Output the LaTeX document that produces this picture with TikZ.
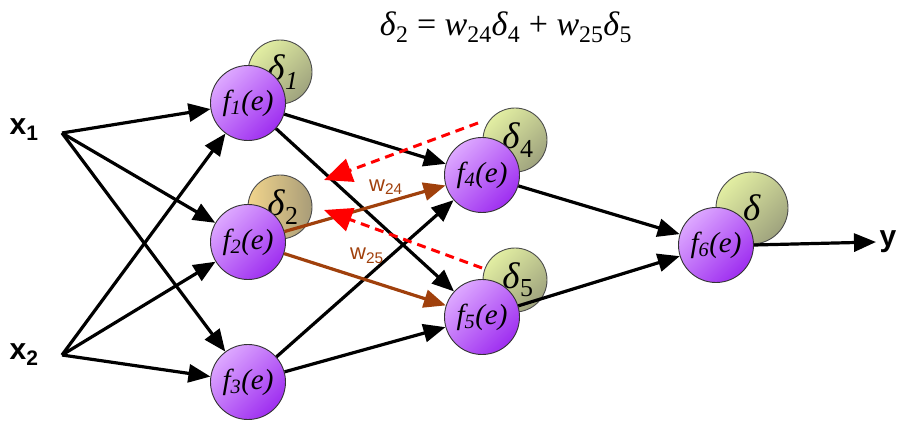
\documentclass[tikz,border=0pt]{standalone}
\usepackage{fontspec}
\setmainfont{Liberation Serif}
\setsansfont{Liberation Sans}
\usetikzlibrary{arrows.meta}
\definecolor{brownarrow}{HTML}{A0400C}
\definecolor{fpurpleA}{HTML}{DDA8FF}
\definecolor{fpurpleB}{HTML}{9E2EF0}
\definecolor{dgreenA}{HTML}{E2EEA2}
\definecolor{dgreenB}{HTML}{9FA37E}
\definecolor{dorangeA}{HTML}{F2D58C}
\definecolor{dorangeB}{HTML}{A89C78}
\newcommand{\dlt}{\textit{δ}}
\tikzset{
  fnode/.style={circle, draw=black!80, line width=0.9pt, minimum size=75pt, inner sep=0pt,
    left color=fpurpleA, right color=fpurpleB, shading angle=45, font=\fontsize{29}{30}\selectfont\itshape},
  dnode/.style={circle, draw=black!70, line width=0.9pt, minimum size=64pt, inner sep=0pt,
    left color=dgreenA, right color=dgreenB, shading angle=45, font=\fontsize{37}{38}\selectfont},
  dnodeo/.style={dnode, left color=dorangeA, right color=dorangeB},
  conn/.style={line width=3.2pt, -{Triangle[length=22pt,width=18pt]}},
  bconn/.style={conn, color=brownarrow},
  rconn/.style={line width=3pt, red, dash pattern=on 9pt off 6pt, -{Triangle[length=28pt,width=24pt]}},
  inlabel/.style={font=\sffamily\bfseries\fontsize{30}{32}\selectfont},
  wlabel/.style={font=\sffamily\fontsize{22}{24}\selectfont, text=brownarrow}
}
\begin{document}
\begin{tikzpicture}[x=1pt,y=-1pt]
\useasboundingbox (0,0) rectangle (910,438);
% delta circles
\node[dnode] (d1) at (280,72) {\kern6pt\dlt\textsubscript{\textit{1}}};
\node[dnodeo] (d2) at (280,207) {\kern6pt\dlt\textsubscript{2}};
\node[dnode] (d4) at (515,140) {\kern6pt\dlt\textsubscript{4}};
\node[dnode] (d5) at (515,280) {\kern6pt\dlt\textsubscript{5}};
\node[dnode, minimum size=72pt] (d6) at (752,208) {\dlt};
% inputs
\node[inlabel] (x1) at (24,130) {x\textsubscript{1}};
\node[inlabel] (x2) at (24,355) {x\textsubscript{2}};
\coordinate (x1c) at (62,133);
\coordinate (x2c) at (62,355);
\node[inlabel, anchor=west] (y) at (876,242) {y};
% f nodes
\node[fnode] (f1) at (248,103) {f\textsubscript{1}(e)};
\node[fnode] (f2) at (248,242) {f\textsubscript{2}(e)};
\node[fnode] (f3) at (248,382) {f\textsubscript{3}(e)};
\node[fnode] (f4) at (482,175) {f\textsubscript{4}(e)};
\node[fnode] (f5) at (482,317) {f\textsubscript{5}(e)};
\node[fnode] (f6) at (716,245) {f\textsubscript{6}(e)};
% connectors
\foreach \s in {x1c,x2c}{
  \foreach \t in {f1,f2,f3}{
    \draw[conn] (\s) -- (\t);
  }
}
\draw[conn] (f1) -- (f4);
\draw[conn] (f1) -- (f5);
\draw[conn] (f3) -- (f4);
\draw[conn] (f3) -- (f5);
\draw[bconn] (f2) -- (f4);
\draw[bconn] (f2) -- (f5);
\draw[conn] (f4) -- (f6);
\draw[conn] (f5) -- (f6);
\draw[conn] (f6.east) -- (y.west);
% red dashed back arrows
\coordinate (r1s) at (478,123);
\coordinate (r1e) at (324,180);
\coordinate (r2s) at (482,268);
\coordinate (r2e) at (324,210);
\draw[rconn] (r1s) -- (r1e);
\draw[rconn] (r2s) -- (r2e);
% weight labels
\node[wlabel] (w24) at (386,187) {w\textsubscript{24}};
\node[wlabel] (w25) at (367,256) {w\textsubscript{25}};
% equation
\node[font=\fontsize{34}{36}\selectfont] (eq) at (506,27) {\dlt\textsubscript{2} = \textit{w}\textsubscript{24}\dlt\textsubscript{4} + \textit{w}\textsubscript{25}\dlt\textsubscript{5}};
\end{tikzpicture}
\end{document}
